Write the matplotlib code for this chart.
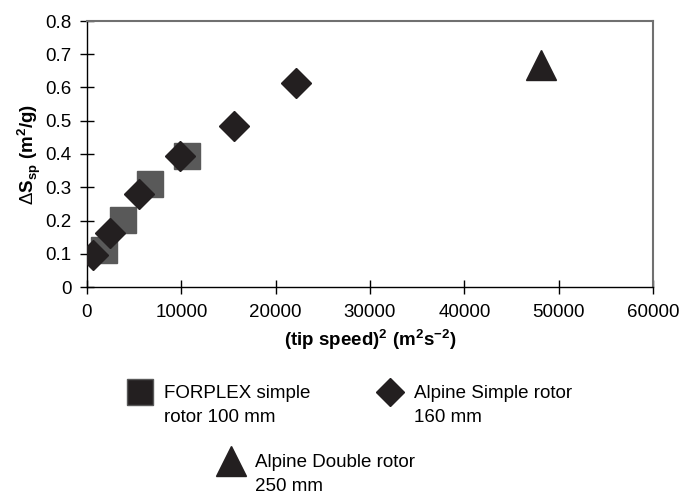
import numpy as np
import matplotlib.pyplot as plt
from matplotlib.lines import Line2D
from matplotlib.ticker import FuncFormatter

plt.rcParams['font.family'] = ['Liberation Sans', 'DejaVu Sans']
plt.rcParams['mathtext.fontset'] = 'custom'
plt.rcParams['mathtext.rm'] = 'Liberation Sans'
plt.rcParams['mathtext.bf'] = 'Liberation Sans:bold'

# FORPLEX simple rotor 100 mm
forplex_x = [1800, 3840, 6700, 10610]
forplex_y = [0.110, 0.203, 0.311, 0.394]

# Alpine simple rotor 160 mm
simple_x = [600, 2430, 5530, 9840, 15560, 22200]
simple_y = [0.097, 0.163, 0.281, 0.394, 0.485, 0.615]

# Alpine double rotor 250 mm
double_x = [48100]
double_y = [0.667]

labels = ["FORPLEX simple\nrotor 100 mm",
          "Alpine Simple rotor\n160 mm",
          "Alpine Double rotor\n250 mm"]

W, H = 683, 496
fig = plt.figure(figsize=(W / 100, H / 100), dpi=100)
ax = fig.add_axes([87 / W, 1 - 287 / H, (653 - 87) / W, (287 - 21) / H])

dark = '#231f20'
grey = '#595959'
fs = 13.5

ax.plot(forplex_x, forplex_y, 's', color=grey, ms=19, mec=grey, zorder=3)
ax.plot(simple_x, simple_y, 'D', color=dark, ms=15, mec=dark, zorder=4)
ax.plot(double_x, double_y, '^', color=dark, ms=21, mec=dark, zorder=4)

ax.set_xlim(0, 60000)
ax.set_ylim(0, 0.8)
ax.set_xticks(np.arange(0, 60001, 10000))
ax.set_yticks(np.arange(0, 0.81, 0.1))
ax.yaxis.set_major_formatter(FuncFormatter(lambda v, p: '0' if abs(v) < 1e-9 else f'{v:.1f}'))
ax.tick_params(direction='inout', length=10, width=1, labelsize=fs, colors='black')
ax.tick_params(axis='y', pad=6)
ax.tick_params(axis='x', pad=7)

for s in ['left', 'bottom']:
    ax.spines[s].set_color('black')
    ax.spines[s].set_linewidth(1)
for s in ['top', 'right']:
    ax.spines[s].set_color('#707070')
    ax.spines[s].set_linewidth(1.5)

ax.set_xlabel(r'(tip speed)$^\mathbf{2}$ (m$^\mathbf{2}$s$^\mathbf{-2}$)', fontsize=fs,
              fontweight='bold', labelpad=5)
ax.set_ylabel(r'$\Delta$S$_\mathbf{sp}$ (m$^\mathbf{2}$/g)', fontsize=fs,
              fontweight='bold', labelpad=2)

# legend entries laid out as in the original figure, marker level with the first line
handles = [
    Line2D([], [], ls='', marker='s', ms=19, color=dark, mec=grey, mew=1),
    Line2D([], [], ls='', marker='D', ms=14, color=dark, mec=dark),
    Line2D([], [], ls='', marker='^', ms=21, color=dark, mec=dark),
]
spots = [(127, 408), (377, 408), (218, 477)]
for h, lab, (px, py) in zip(handles, labels, spots):
    leg = fig.legend([h], [lab], loc='center left', bbox_to_anchor=(px / W, 1 - py / H),
                     frameon=False, fontsize=fs, borderpad=0, borderaxespad=0,
                     handlelength=1.4, handleheight=5.7, handletextpad=0.55, labelspacing=0)
    for t in leg.get_texts():
        t.set_linespacing(1.5)

fig.savefig('out.png', dpi=100)
